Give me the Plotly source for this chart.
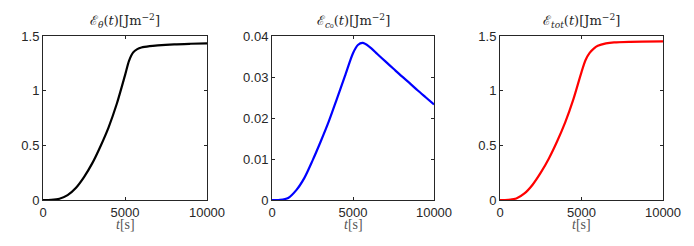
import plotly.graph_objects as go

t1 = [0, 500, 1000, 1500, 2000, 2500, 3000, 3500, 4000, 4500, 5000, 5250, 5500, 5750, 6000, 6500, 7000, 8000, 9000, 10000]
e_theta = [0, 0.002, 0.012, 0.045, 0.11, 0.21, 0.335, 0.49, 0.665, 0.88, 1.14, 1.275, 1.35, 1.38, 1.395, 1.408, 1.415, 1.424, 1.429, 1.433]

t2 = [0, 500, 1000, 1500, 2000, 2500, 3000, 3500, 4000, 4500, 5000, 5300, 5600, 6000, 6500, 7000, 7500, 8000, 8500, 9000, 9500, 10000]
e_c0 = [0, 0.00003, 0.0005, 0.0024, 0.0054, 0.0096, 0.0142, 0.0191, 0.0246, 0.0302, 0.0358, 0.0378, 0.0383, 0.0374, 0.0356, 0.0338, 0.032, 0.0302, 0.0285, 0.0267, 0.025, 0.0233]

t3 = [0, 500, 1000, 1500, 2000, 2500, 3000, 3500, 4000, 4500, 5000, 5250, 5500, 5750, 6000, 6500, 7000, 8000, 10000]
e_tot = [0, 0.002, 0.014, 0.06, 0.14, 0.25, 0.38, 0.535, 0.71, 0.92, 1.17, 1.28, 1.345, 1.385, 1.41, 1.432, 1.442, 1.447, 1.45]

titles = ["ℰ<sub><i>θ</i></sub>(<i>t</i>)[Jm<sup>−2</sup>]",
          "ℰ<sub><i>c</i>₀</sub>(<i>t</i>)[Jm<sup>−2</sup>]",
          "ℰ<sub><i>tot</i></sub>(<i>t</i>)[Jm<sup>−2</sup>]"]
xlabel = "<i>t</i>[s]"
colors = ["black", "blue", "red"]

OFF = 8  # page body margin
W, H = 694 - OFF, 246 - OFF
panels = [(43, 207), (272, 434), (500, 663)]
top, bottom = 36, 200
yranges = [[0, 1.5], [0, 0.04], [0, 1.5]]
yticks = [[0, 0.5, 1, 1.5], [0, 0.01, 0.02, 0.03, 0.04], [0, 0.5, 1, 1.5]]
yticktext = [["0", "0.5", "1", "1.5"], ["0", "0.01", "0.02", "0.03", "0.04"], ["0", "0.5", "1", "1.5"]]


def px(v):
    return (v - OFF) / W


def py(v):
    return 1 - (v - OFF) / H


fig = go.Figure()
data = [(t1, e_theta), (t2, e_c0), (t3, e_tot)]
axcol = "#262626"
for i, ((x, y), c) in enumerate(zip(data, colors)):
    n = "" if i == 0 else str(i + 1)
    fig.add_trace(go.Scatter(x=x, y=y, mode="lines", line=dict(color=c, width=2.2, shape="spline", smoothing=0.8),
                             xaxis="x" + n, yaxis="y" + n, showlegend=False))
    l, r = panels[i]
    common = dict(showline=True, linecolor=axcol, linewidth=1, mirror="ticks", ticks="inside",
                  ticklen=3, tickcolor=axcol, showgrid=False, zeroline=False, automargin=False,
                  tickfont=dict(family="Liberation Sans, Arial", size=13, color=axcol))
    fig.update_layout(**{
        "xaxis" + n: dict(domain=[px(l), px(r)], range=[0, 10000], tickvals=[0, 5000, 10000],
                          ticktext=["0", "5000", "10000"], anchor="y" + n, **common),
        "yaxis" + n: dict(domain=[py(bottom), py(top)], range=yranges[i], tickvals=yticks[i],
                          ticktext=yticktext[i], anchor="x" + n, **common),
    })
    fig.add_annotation(x=px((l + r) / 2), y=py(21), xref="paper", yref="paper", text=titles[i],
                       showarrow=False, xanchor="center", yanchor="middle",
                       font=dict(family="DejaVu Serif, Liberation Serif, serif", size=13, color=axcol))
    fig.add_annotation(x=px((l + r) / 2), y=py(224), xref="paper", yref="paper", text=xlabel,
                       showarrow=False, xanchor="center", yanchor="middle",
                       font=dict(family="Liberation Serif, serif", size=14, color="#555555"))

fig.update_layout(width=W, height=H, margin=dict(l=0, r=0, t=0, b=0, autoexpand=False),
                  paper_bgcolor="white", plot_bgcolor="white")
fig.write_html("out.html")
